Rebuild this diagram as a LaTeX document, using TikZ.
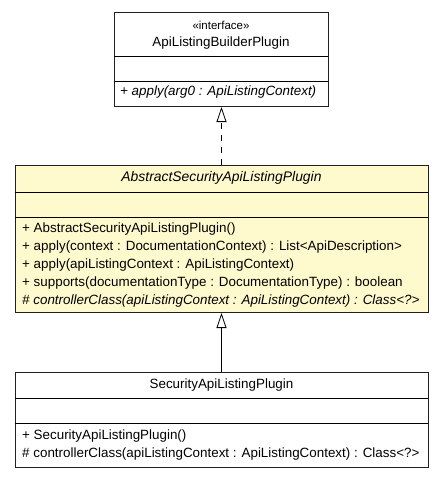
\documentclass[tikz,border=0pt]{standalone}
\usepackage{fontspec}
\setmainfont{Liberation Sans}
\usetikzlibrary{arrows.meta}
\definecolor{absfill}{HTML}{FFFACD}
\definecolor{boxline}{HTML}{202020}
\newcommand{\umlfont}{\fontsize{13.4}{15}\selectfont}
\begin{document}
\begin{tikzpicture}[x=1pt,y=-1pt,
  umlbox/.style={draw=boxline, line width=1pt, anchor=north west, inner sep=0pt},
  divider/.style={draw=black, line width=0.9pt},
  member/.style={anchor=west, inner sep=0pt, font=\umlfont},
  title/.style={anchor=center, inner sep=0pt, font=\umlfont},
  stereo/.style={anchor=center, inner sep=0pt, font=\fontsize{11.5}{13}\selectfont},
  realize/.style={dashed, dash pattern=on 6pt off 6pt, line width=0.8pt, -{Triangle[open, length=15pt, width=10pt, fill=white]}},
  inherit/.style={line width=0.8pt, -{Triangle[open, length=15pt, width=10pt, fill=white]}}]
\useasboundingbox (0,0) rectangle (443,477);
% top interface box
\node[umlbox, minimum width=214pt, minimum height=94pt] (iface) at (114,12) {};
\draw[divider] (114,56) -- (328,56);
\draw[divider] (114,81) -- (328,81);
\node[stereo] (ifst) at (221,25) {«interface»};
\node[title] (ifname) at (221,43) {ApiListingBuilderPlugin};
\node[member, font=\umlfont\itshape] (ifm1) at (120,92) {+ apply(arg0 : ApiListingContext)};
% abstract class
\node[umlbox, fill=absfill, minimum width=413pt, minimum height=147pt] (abs) at (15,165) {};
\draw[divider] (15,192) -- (428,192);
\draw[divider] (15,217) -- (428,217);
\node[title, font=\fontsize{13.9}{15}\selectfont\itshape] (absname) at (221.5,178) {AbstractSecurityApiListingPlugin};
\node[member] (am1) at (22,229) {+ AbstractSecurityApiListingPlugin()};
\node[member] (am2) at (22,247) {+ apply(context : DocumentationContext) : List<ApiDescription>};
\node[member] (am3) at (22,265) {+ apply(apiListingContext : ApiListingContext)};
\node[member] (am4) at (22,283) {+ supports(documentationType : DocumentationType) : boolean};
\node[member, font=\umlfont\itshape] (am5) at (22,301) {\# controllerClass(apiListingContext : ApiListingContext) : Class<?>};
% concrete class
\node[umlbox, fill=white, minimum width=413pt, minimum height=95pt] (sec) at (15,372) {};
\draw[divider] (15,398) -- (428,398);
\draw[divider] (15,423) -- (428,423);
\node[title] (secname) at (221.5,385) {SecurityApiListingPlugin};
\node[member] (sm1) at (22,436) {+ SecurityApiListingPlugin()};
\node[member] (sm2) at (22,454) {\# controllerClass(apiListingContext : ApiListingContext) : Class<?>};
% connectors
\draw[realize] (abs.north -| iface.south) -- (iface.south);
\draw[inherit] (sec.north -| iface.south) -- (abs.south -| iface.south);
\end{tikzpicture}
\end{document}
